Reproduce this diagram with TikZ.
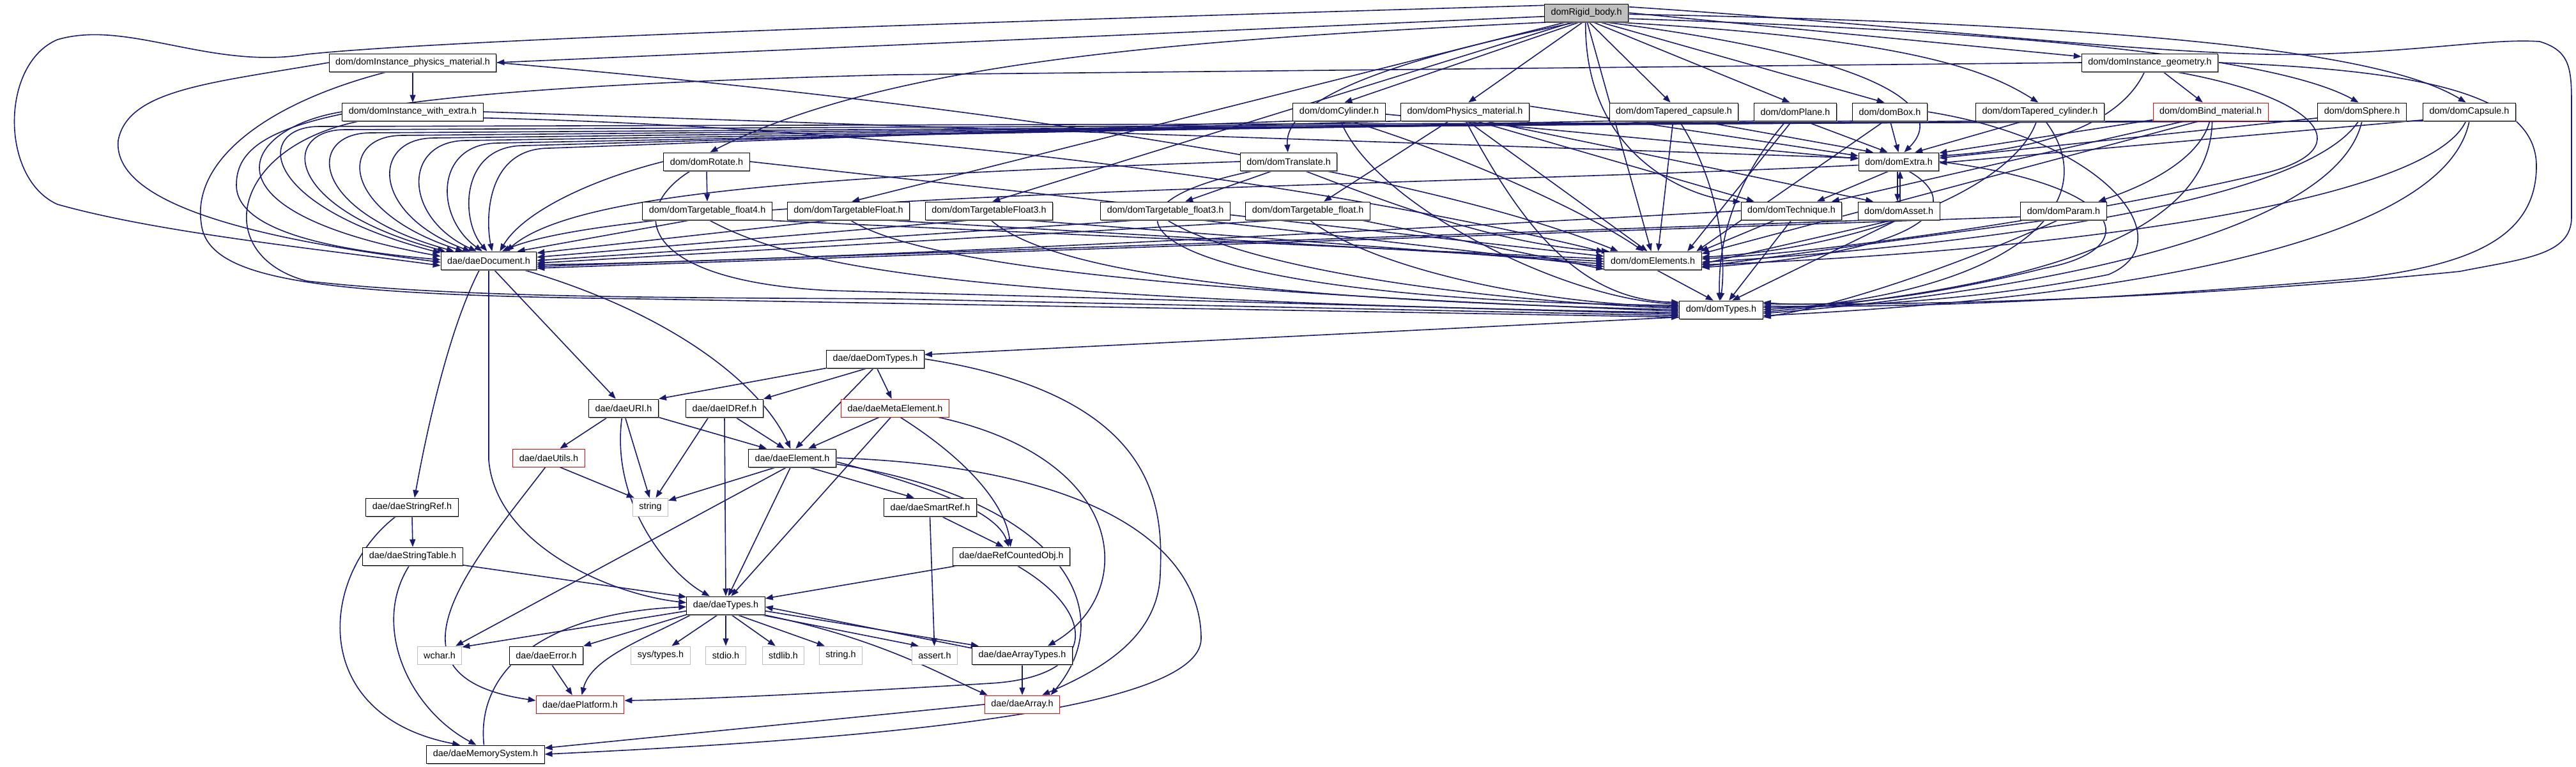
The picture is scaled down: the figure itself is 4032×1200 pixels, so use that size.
\documentclass[tikz,border=0pt]{standalone}
\usepackage{fontspec}
\setmainfont{Liberation Sans}
\usetikzlibrary{arrows.meta, shadows}
\definecolor{edgeblue}{HTML}{191970}
\definecolor{sysgray}{HTML}{BFBFBF}
\pgfdeclarelayer{bg}
\pgfdeclarelayer{edges}
\pgfsetlayers{bg,edges,main}

\begin{document}
\begin{tikzpicture}[
    x=0.5pt, y=-0.5pt,
    file/.style={draw, fill=white, line width=0.5pt, font=\fontsize{7.2}{8}\selectfont, minimum height=14pt, inner xsep=5pt, inner ysep=0pt},
    dep/.style={file, general shadow={fill=gray!80, shadow xshift=0.6pt, shadow yshift=-0.8pt}},
    root/.style={dep, fill=sysgray},
    missing/.style={file, draw=red},
    sys/.style={file, draw=sysgray},
    arr/.style={draw=edgeblue, line width=0.8pt, -{Triangle[length=6pt, width=4.5pt]}}
  ]
    \begin{pgfonlayer}{bg}
      \fill[white] (0,0) rectangle (4032,1200);
    \end{pgfonlayer}
    \useasboundingbox (0,0) rectangle (4032,1200);

    \node[root] (rigid) at (2483,20) {domRigid\_body.h};
    \node[dep] (ipm) at (646,98) {dom/domInstance\_physics\_material.h};
    \node[dep] (igeo) at (3365,98) {dom/domInstance\_geometry.h};
    \node[dep] (iwe) at (646,175) {dom/domInstance\_with\_extra.h};
    \node[dep] (cyl) at (2096,175) {dom/domCylinder.h};
    \node[dep] (physmat) at (2293,175) {dom/domPhysics\_material.h};
    \node[dep] (tcaps) at (2620,175) {dom/domTapered\_capsule.h};
    \node[dep] (plane) at (2810,175) {dom/domPlane.h};
    \node[dep] (box) at (2958,175) {dom/domBox.h};
    \node[dep] (tcyl) at (3193,175) {dom/domTapered\_cylinder.h};
    \node[missing] (bindmat) at (3460,175) {dom/domBind\_material.h};
    \node[dep] (sphere) at (3697,175) {dom/domSphere.h};
    \node[dep] (capsule) at (3865,175) {dom/domCapsule.h};
    \node[dep] (rotate) at (1106,253) {dom/domRotate.h};
    \node[dep] (translate) at (2017,253) {dom/domTranslate.h};
    \node[dep] (extra) at (2972,253) {dom/domExtra.h};
    \node[dep] (tffour) at (1107,330) {dom/domTargetable\_float4.h};
    \node[dep] (tFloat) at (1328,330) {dom/domTargetableFloat.h};
    \node[dep] (tFloatthree) at (1548,330) {dom/domTargetableFloat3.h};
    \node[dep] (tfthree) at (1824,330) {dom/domTargetable\_float3.h};
    \node[dep] (tfloat) at (2047,330) {dom/domTargetable\_float.h};
    \node[dep] (technique) at (2804,330) {dom/domTechnique.h};
    \node[dep] (asset) at (2972,330) {dom/domAsset.h};
    \node[dep] (param) at (3230,330) {dom/domParam.h};
    \node[dep] (doc) at (765,408) {dae/daeDocument.h};
    \node[dep] (elements) at (2587,408) {dom/domElements.h};
    \node[dep] (types) at (2694,485) {dom/domTypes.h};
    \node[dep] (domtypes) at (1370,562) {dae/daeDomTypes.h};
    \node[dep] (uri) at (976,639) {dae/daeURI.h};
    \node[dep] (idref) at (1134,639) {dae/daeIDRef.h};
    \node[missing] (meta) at (1401,639) {dae/daeMetaElement.h};
    \node[missing] (utils) at (859,717) {dae/daeUtils.h};
    \node[dep] (element) at (1240,717) {dae/daeElement.h};
    \node[dep] (stringref) at (645,794) {dae/daeStringRef.h};
    \node[sys] (string) at (1018,794) {string};
    \node[dep] (smartref) at (1456,794) {dae/daeSmartRef.h};
    \node[dep] (stringtable) at (646,871) {dae/daeStringTable.h};
    \node[dep] (refobj) at (1583,871) {dae/daeRefCountedObj.h};
    \node[dep] (daetypes) at (1136,948) {dae/daeTypes.h};
    \node[sys] (wchar) at (688,1026) {wchar.h};
    \node[dep] (error) at (855,1026) {dae/daeError.h};
    \node[sys] (systypes) at (1034,1026) {sys/types.h};
    \node[sys] (stdio) at (1136,1026) {stdio.h};
    \node[sys] (stdlib) at (1226,1026) {stdlib.h};
    \node[sys] (stringh) at (1316,1026) {string.h};
    \node[sys] (assert) at (1463,1026) {assert.h};
    \node[dep] (arraytypes) at (1600,1026) {dae/daeArrayTypes.h};
    \node[missing] (platform) at (908,1103) {dae/daePlatform.h};
    \node[missing] (array) at (1600,1103) {dae/daeArray.h};
    \node[dep] (memsys) at (760,1181) {dae/daeMemorySystem.h};

    \begin{pgfonlayer}{edges}
    \draw[arr] (rigid.170) .. controls (1500,35) and (700,62) .. (480,85) .. controls (330,110) and (200,30) .. (90,62) .. controls (0,100) and (0,280) .. (90,320) .. controls (250,365) and (500,390) .. (doc.186);
    \draw[arr] (rigid.185) -- (ipm.east);
    \draw[arr] (rigid.east) -- (igeo.175);
    \draw[arr] (rigid.195) .. controls (1900,60) and (1400,90) .. (rotate.70);
    \draw[arr] (rigid.205) -- (tFloat.70);
    \draw[arr] (rigid.215) -- (tFloatthree.70);
    \draw[arr] (rigid.225) .. controls (2150,100) and (2010,160) .. (translate.95);
    \draw[arr] (rigid.235) -- (cyl.60);
    \draw[arr] (rigid.250) -- (physmat.70);
    \draw[arr] (rigid.-75) -- (tcaps.110);
    \draw[arr] (rigid.-55) -- (plane.120);
    \draw[arr] (rigid.-35) -- (box.120);
    \draw[arr] (rigid.-20) .. controls (2990,60) and (3110,110) .. (tcyl.100);
    \draw[arr] (rigid.-8) .. controls (3350,55) and (3600,110) .. (sphere.110);
    \draw[arr] (rigid.-2) .. controls (3500,40) and (3760,100) .. (capsule.110);
    \draw[arr] (rigid.-28) .. controls (2950,90) and (3050,170) .. (extra.60);
    \draw[arr] (rigid.-85) -- (elements.100);
    \draw[arr] (rigid.-95) .. controls (2480,250) and (2650,310) .. (technique.170);
    \draw[arr] (rigid.8) .. controls (3000,40) and (3400,90) .. (3614,85) .. controls (3800,80) and (3900,60) .. (3975,65) .. controls (4025,80) and (4025,110) .. (4025,170) -- (4025,340) .. controls (4025,400) and (3950,405) .. (3850,425) .. controls (3400,470) and (3000,478) .. (types.8);

    \draw[arr] (ipm.south) -- (iwe.north);
    \draw[arr] (ipm.west) .. controls (330,130) and (200,140) .. (185,220) .. controls (175,330) and (450,380) .. (doc.182);
    \draw[arr] (ipm.200) .. controls (420,160) and (300,250) .. (315,350) .. controls (325,440) and (500,462) .. (1000,468) -- (types.190);
    \draw[arr] (ipm.east) .. controls (1500,160) and (2200,260) .. (elements.165);

    \draw[arr] (iwe.west) .. controls (380,200) and (300,330) .. (doc.175);
    \draw[arr] (iwe.190) .. controls (360,230) and (330,400) .. (480,440) .. controls (700,465) and (1000,466) .. (1400,468) -- (types.188);
    \draw[arr] (iwe.east) -- (extra.175);
    \draw[arr] (iwe.-5) .. controls (1600,205) and (2250,330) .. (elements.170);

    \draw[arr] (igeo.-35) -- (bindmat.130);
    \draw[arr] (igeo.west) -- (1400,117) .. controls (520,140) and (370,190) .. (370,290) .. controls (370,370) and (560,395) .. (doc.179);
    \draw[arr] (igeo.-120) .. controls (3330,170) and (3250,230) .. (extra.8);
    \draw[arr] (igeo.-20) .. controls (3620,150) and (3700,230) .. (3550,270) .. controls (3300,330) and (2900,392) .. (elements.2);
    \draw[arr] (igeo.east) .. controls (3800,110) and (3970,150) .. (3970,260) .. controls (3970,380) and (3850,415) .. (3700,435) .. controls (3300,470) and (3000,482) .. (types.5);

    \draw[arr] (bindmat.188) -- (extra.12);
    \draw[arr] (bindmat.200) -- (technique.13);
    \draw[arr] (bindmat.-95) .. controls (3440,260) and (3330,300) .. (param.15);
    \draw[arr] (bindmat.220) -- (elements.8);
    \draw[arr] (bindmat.-80) .. controls (3460,330) and (3300,440) .. (types.-3);

    \draw[arr] (capsule.south west) -- (500,198) .. controls (400,198) and (400,320) .. (doc.171);
    \draw[arr] (sphere.south west) -- (540,203) .. controls (440,203) and (440,325) .. (doc.168);
    \draw[arr] (bindmat.south west) -- (580,208) .. controls (480,208) and (480,330) .. (doc.165);
    \draw[arr] (tcyl.south west) -- (630,212) .. controls (530,212) and (530,330) .. (doc.160);
    \draw[arr] (box.south west) -- (680,216) .. controls (580,216) and (580,335) .. (doc.153);
    \draw[arr] (plane.south west) -- (730,220) .. controls (630,220) and (630,340) .. (doc.143);
    \draw[arr] (tcaps.south west) -- (780,224) .. controls (680,224) and (680,340) .. (doc.125);
    \draw[arr] (physmat.south west) -- (820,228) .. controls (720,228) and (720,345) .. (doc.100);
    \draw[arr] (cyl.south west) -- (860,232) .. controls (760,232) and (760,345) .. (doc.70);

    \draw[arr] (physmat.-150) -- (tfloat.30);
    \draw[arr] (physmat.-75) -- (elements.120);
    \draw[arr] (physmat.-85) .. controls (2380,350) and (2470,470) .. (types.170);
    \draw[arr] (physmat.5) -- (extra.172);
    \draw[arr] (physmat.-40) -- (technique.166);
    \draw[arr] (physmat.-25) -- (asset.160);

    \draw[arr] (cyl.-3) -- (extra.176);
    \draw[arr] (cyl.-40) .. controls (2280,240) and (2480,330) .. (elements.135);
    \draw[arr] (cyl.-80) .. controls (2150,320) and (2450,470) .. (types.172);

    \draw[arr] (tcaps.-20) -- (extra.160);
    \draw[arr] (tcaps.-95) -- (elements.60);
    \draw[arr] (tcaps.-60) .. controls (2700,300) and (2700,420) .. (types.95);

    \draw[arr] (plane.-45) -- (extra.140);
    \draw[arr] (plane.-110) -- (elements.15);
    \draw[arr] (plane.-135) .. controls (2700,300) and (2690,400) .. (types.100);

    \draw[arr] (box.-88) -- (extra.92);
    \draw[arr] (box.-120) -- (elements.12);
    \draw[arr] (box.east) .. controls (3300,220) and (3420,380) .. (3300,430) .. controls (3100,470) and (2900,480) .. (types.3);

    \draw[arr] (tcyl.-150) -- (extra.30);
    \draw[arr] (tcyl.-110) .. controls (3150,300) and (2900,390) .. (elements.4);
    \draw[arr] (tcyl.-60) .. controls (3300,320) and (3150,460) .. (types.0);

    \draw[arr] (sphere.188) -- (extra.5);
    \draw[arr] (sphere.-110) .. controls (3600,330) and (3000,390) .. (elements.-2);
    \draw[arr] (sphere.-90) .. controls (3650,400) and (3000,472) .. (types.-5);

    \draw[arr] (capsule.190) -- (extra.-2);
    \draw[arr] (capsule.-110) .. controls (3800,320) and (3200,395) .. (elements.-5);
    \draw[arr] (capsule.-90) .. controls (3820,420) and (3100,478) .. (types.-8);

    \draw[arr] (rotate.south) -- (tffour.north);
    \draw[arr] (rotate.west) .. controls (930,280) and (820,330) .. (doc.40);
    \draw[arr] (rotate.east) -- (elements.175);
    \draw[arr] (rotate.-150) .. controls (980,330) and (1000,440) .. (1300,455) -- (types.186);

    \draw[arr] (translate.-150) -- (tfthree.25);
    \draw[arr] (translate.west) .. controls (1300,275) and (900,300) .. (doc.28);
    \draw[arr] (translate.-30) .. controls (2180,320) and (2350,385) .. (elements.168);
    \draw[arr] (translate.-165) .. controls (1650,330) and (1800,470) .. (types.174);

    \draw[arr] (tffour.-150) -- (doc.18);
    \draw[arr] (tffour.-10) -- (elements.178);
    \draw[arr] (tffour.-80) .. controls (1250,420) and (1500,470) .. (types.184);

    \draw[arr] (tFloat.-150) -- (doc.9);
    \draw[arr] (tFloat.-15) -- (elements.181);
    \draw[arr] (tFloat.-80) .. controls (1450,420) and (1900,460) .. (types.182);

    \draw[arr] (tFloatthree.-150) -- (doc.4);
    \draw[arr] (tFloatthree.-15) -- (elements.184);
    \draw[arr] (tFloatthree.-80) .. controls (1650,430) and (2000,470) .. (types.180);

    \draw[arr] (tfthree.-160) -- (doc.0);
    \draw[arr] (tfthree.-15) -- (elements.187);
    \draw[arr] (tfthree.-80) .. controls (1950,420) and (2300,470) .. (types.178);

    \draw[arr] (tfloat.-160) -- (doc.-3);
    \draw[arr] (tfloat.-10) -- (elements.190);
    \draw[arr] (tfloat.-80) .. controls (2150,420) and (2400,475) .. (types.176);

    \draw[arr] (extra.-135) -- (technique.20);
    \draw[arr] (extra.-98) -- (asset.98);
    \draw[arr] (asset.82) -- (extra.-82);
    \draw[arr] (extra.-45) .. controls (3080,320) and (3020,395) .. (elements.-8);
    \draw[arr] (extra.east) .. controls (3330,290) and (3360,390) .. (3200,420) .. controls (3000,470) and (2850,482) .. (types.10);
    \draw[arr] (extra.185) .. controls (2300,290) and (1000,300) .. (doc.35);

    \draw[arr] (technique.west) .. controls (2000,370) and (1200,410) .. (doc.-5);
    \draw[arr] (technique.-150) -- (elements.11);
    \draw[arr] (technique.-90) -- (types.50);

    \draw[arr] (asset.-160) -- (doc.-7);
    \draw[arr] (asset.-120) -- (elements.-4);
    \draw[arr] (asset.-100) -- (types.40);

    \draw[arr] (param.188) -- (doc.-9);
    \draw[arr] (param.-150) -- (elements.-7);
    \draw[arr] (param.-120) .. controls (3100,400) and (2900,475) .. (types.-10);

    \draw[arr] (elements.-70) -- (types.130);
    \draw[arr] (types.190) -- (domtypes.5);

    \draw[arr] (doc.-135) .. controls (700,520) and (665,690) .. (stringref.75);
    \draw[arr] (doc.-90) -- (765,720) .. controls (775,850) and (950,930) .. (daetypes.176);
    \draw[arr] (doc.-60) -- (uri.130);
    \draw[arr] (doc.-15) .. controls (1050,490) and (1190,600) .. (element.100);

    \draw[arr] (domtypes.south west) -- (uri.north east);
    \draw[arr] (domtypes.-130) -- (idref.north east);
    \draw[arr] (domtypes.-100) -- (element.70);
    \draw[arr] (domtypes.-80) -- (meta.110);
    \draw[arr] (domtypes.east) .. controls (1820,620) and (1820,800) .. (1816,900) .. controls (1812,1000) and (1720,1050) .. (array.25);

    \draw[arr] (uri.-150) -- (utils.40);
    \draw[arr] (uri.-80) -- (string.95);
    \draw[arr] (uri.-100) .. controls (955,790) and (1050,900) .. (daetypes.150);
    \draw[arr] (uri.south east) -- (element.160);

    \draw[arr] (idref.-150) -- (string.60);
    \draw[arr] (idref.-90) -- (daetypes.90);
    \draw[arr] (idref.-40) -- (element.130);

    \draw[arr] (meta.-150) -- (element.30);
    \draw[arr] (meta.-115) -- (daetypes.60);
    \draw[arr] (meta.-60) .. controls (1530,730) and (1575,800) .. (refobj.95);
    \draw[arr] (meta.-12) .. controls (1770,720) and (1780,930) .. (arraytypes.20);

    \draw[arr] (utils.-40) -- (string.150);
    \draw[arr] (utils.-110) .. controls (740,880) and (580,1060) .. (platform.175);

    \draw[arr] (element.-150) -- (string.20);
    \draw[arr] (element.-120) -- (wchar.30);
    \draw[arr] (element.-100) -- (daetypes.75);
    \draw[arr] (element.-30) -- (smartref.150);
    \draw[arr] (element.-5) .. controls (1450,760) and (1560,800) .. (refobj.105);
    \draw[arr] (element.-8) .. controls (1650,780) and (1760,950) .. (array.18);
    \draw[arr] (element.0) .. controls (1700,730) and (1880,850) .. (1880,1000) .. controls (1880,1120) and (1300,1160) .. (memsys.0);

    \draw[arr] (stringref.south) -- (stringtable.north);
    \draw[arr] (stringref.-150) .. controls (500,900) and (480,1120) .. (memsys.160);

    \draw[arr] (stringtable.-10) -- (daetypes.168);
    \draw[arr] (stringtable.-110) .. controls (580,980) and (640,1110) .. (memsys.135);

    \draw[arr] (smartref.-40) -- (refobj.130);
    \draw[arr] (smartref.-92) -- (assert.92);

    \draw[arr] (refobj.190) -- (daetypes.10);
    \draw[arr] (refobj.-60) .. controls (1720,960) and (1720,1060) .. (1550,1070) .. controls (1300,1085) and (1100,1095) .. (platform.5);

    \draw[arr] (daetypes.188) -- (wchar.20);
    \draw[arr] (daetypes.south west) -- (error.north east);
    \draw[arr] (daetypes.-130) -- (systypes.40);
    \draw[arr] (daetypes.-90) -- (stdio.90);
    \draw[arr] (daetypes.-60) -- (stdlib.130);
    \draw[arr] (daetypes.-40) -- (stringh.150);
    \draw[arr] (daetypes.-15) -- (assert.150);
    \draw[arr] (daetypes.-8) -- (arraytypes.168);
    \draw[arr] (arraytypes.172) -- (daetypes.-2);
    \draw[arr] (daetypes.-165) .. controls (1010,1000) and (925,1030) .. (platform.80);
    \draw[arr] (daetypes.-14) .. controls (1380,1000) and (1480,1060) .. (array.165);

    \draw[arr] (memsys.100) .. controls (745,1050) and (850,960) .. (daetypes.182);
    \draw[arr] (error.-60) -- (platform.130);
    \draw[arr] (arraytypes.south) -- (array.north);
    \draw[arr] (array.west) -- (memsys.6);
    \end{pgfonlayer}
\end{tikzpicture}
\end{document}
